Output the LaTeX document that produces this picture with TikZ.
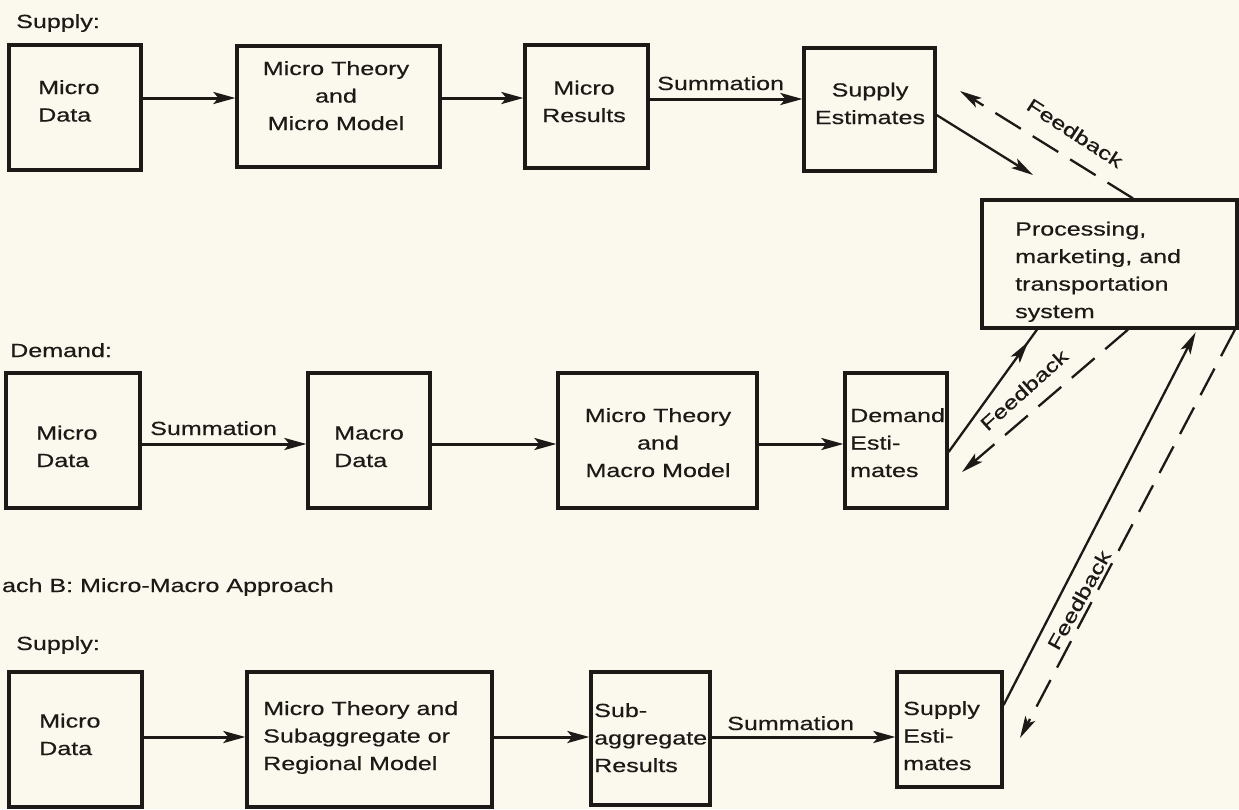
\documentclass[tikz,border=0pt]{standalone}
\usepackage{fontspec}
\setmainfont{Liberation Sans}[FakeStretch=1.32,FakeBold=0.5]
\usetikzlibrary{arrows.meta,decorations.markings}
\definecolor{bg}{RGB}{251,249,238}
\definecolor{ink}{RGB}{28,25,22}
\begin{document}
\begin{tikzpicture}[x=1pt,y=-1pt,
  every node/.style={font=\fontsize{19}{27.5}\selectfont, text=ink},
  box/.style={draw=ink, line width=3.2pt, inner sep=0pt},
  tl/.style={anchor=base west, align=left, inner sep=0pt},
  tc/.style={anchor=base, align=center, inner sep=0pt},
  arr/.style={draw=ink, line width=3pt, -{Stealth[length=22pt,width=12pt,inset=5pt]}},
  fb/.style={draw=ink, line width=2.3pt},
  fbd/.style={fb, dash pattern=on 30pt off 14pt},
  tipfb/.style={-{Stealth[length=22pt,width=11pt,inset=5pt]}},
  midtip/.style={postaction={decorate, decoration={markings, mark=at position #1 with {\arrow{Stealth[length=22pt,width=11pt,inset=5pt]}}}}},
  lab/.style={anchor=base west, inner sep=0pt},
  fblab/.style={inner sep=0pt}
]
\path[use as bounding box, fill=bg] (0,0) rectangle (1239,809);

% ---------- top: supply ----------
\node[lab] (s1) at (16,28) {Supply:};
\node[box, minimum width=132pt, minimum height=125pt] (A1) at (75,107.5) {};
\node[tl] (A1t) at (38,121.5) {Micro\\Data};
\node[box, minimum width=203pt, minimum height=121pt] (A2) at (338.5,106.5) {};
\node[tc] (A2t) at (336,130) {Micro Theory\\and\\Micro Model};
\node[box, minimum width=123pt, minimum height=123pt] (A3) at (586.5,106.5) {};
\node[tc] (A3t) at (584,122) {Micro\\Results};
\node[box, minimum width=131pt, minimum height=123pt] (A4) at (869.5,109.5) {};
\node[tc] (A4t) at (870,124) {Supply\\Estimates};
\node[box, minimum width=255pt, minimum height=128pt] (P) at (1109.5,264) {};
\node[tl] (Pt) at (1015,318) {Processing,\\marketing, and\\transportation\\system};

\coordinate (ya) at (0,98);
\coordinate (yb) at (0,99);
\draw[arr] (A1.east |- ya) -- (A2.west |- ya);
\draw[arr] (A2.east |- ya) -- (A3.west |- ya);
\draw[arr] (A3.east |- yb) -- (A4.west |- yb);
\node[lab] (sum1) at (657,90) {Summation};

% ---------- middle: demand ----------
\node[lab] (d1) at (10,357) {Demand:};
\node[box, minimum width=134pt, minimum height=135pt] (B1) at (73,440.5) {};
\node[tl] (B1t) at (36,467) {Micro\\Data};
\node[box, minimum width=122pt, minimum height=135pt] (B2) at (369,440.5) {};
\node[tl] (B2t) at (334,467) {Macro\\Data};
\node[box, minimum width=199pt, minimum height=135pt] (B3) at (657.5,440.5) {};
\node[tc] (B3t) at (658,477) {Micro Theory\\and\\Macro Model};
\node[box, minimum width=102pt, minimum height=135pt] (B4) at (896,440.5) {};
\node[tl] (B4t) at (850,477) {Demand\\Esti-\\mates};

\coordinate (yc) at (0,444);
\draw[arr] (B1.east |- yc) -- (B2.west |- yc);
\draw[arr] (B2.east |- yc) -- (B3.west |- yc);
\draw[arr] (B3.east |- yc) -- (B4.west |- yc);
\node[lab] (sum2) at (150,435) {Summation};

% ---------- bottom: approach B ----------
\node[anchor=base east, inner sep=0pt] (appb) at (334,592) {ach B: Micro-Macro Approach};
\node[lab] (s2) at (16,650) {Supply:};
\node[box, minimum width=133pt, minimum height=135pt] (C1) at (75.5,739.5) {};
\node[tl] (C1t) at (39,755) {Micro\\Data};
\node[box, minimum width=245pt, minimum height=135pt] (C2) at (369.5,739.5) {};
\node[tl] (C2t) at (263,770) {Micro Theory and\\Subaggregate or\\Regional Model};
\node[box, minimum width=119pt, minimum height=133pt] (C3) at (650.5,738.5) {};
\node[tl] (C3t) at (594,772) {Sub-\\aggregate\\Results};
\node[box, minimum width=105pt, minimum height=115pt] (C4) at (949.5,729.5) {};
\node[tl] (C4t) at (903,770) {Supply\\Esti-\\mates};

\coordinate (yd) at (0,737);
\draw[arr] (C1.east |- yd) -- (C2.west |- yd);
\draw[arr] (C2.east |- yd) -- (C3.west |- yd);
\draw[arr] (C3.east |- yd) -- (C4.west |- yd);
\node[lab] (sum3) at (727,730) {Summation};

% ---------- feedback: top ----------
\coordinate (f1s) at (0,115);
\coordinate (f1e) at (1033,175);
\coordinate (f1x) at (1133,0);
\coordinate (f1d) at (960,91);
\draw[fb, tipfb] (A4.east |- f1s) -- (f1e);
\draw[fbd, tipfb] (P.north -| f1x) -- (f1d);
\node[fblab, rotate=-33] (fb1) at (1075,133) {Feedback};

% ---------- feedback: demand ----------
\coordinate (f2s) at (0,452);
\coordinate (f2x) at (1037,0);
\coordinate (f2dx) at (1128,0);
\coordinate (f2d) at (962,472);
\draw[fb, midtip=0.9] (B4.east |- f2s) -- (P.south -| f2x);
\draw[fbd, tipfb] (P.south -| f2dx) -- (f2d);
\node[fblab, rotate=42] (fb2) at (1024,390) {Feedback};

% ---------- feedback: bottom supply ----------
\coordinate (f3s) at (0,705);
\coordinate (f3x) at (1197,0);
\coordinate (f3dx) at (1235,0);
\coordinate (f3d) at (1020,738);
\draw[fb, tipfb, shorten >=3pt] (C4.east |- f3s) -- (P.south -| f3x);
\draw[fbd, tipfb] (P.south -| f3dx) -- (f3d);
\node[fblab, rotate=61] (fb3) at (1079,600) {Feedback};
\end{tikzpicture}
\end{document}
